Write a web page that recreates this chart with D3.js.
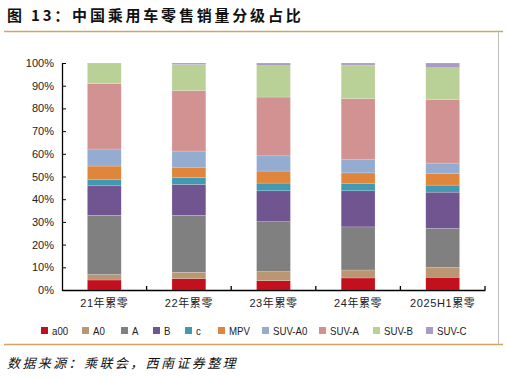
<!DOCTYPE html>
<html>
<head>
<meta charset="utf-8">
<script src="https://cdn.jsdelivr.net/npm/d3@7"></script>
<style>
  body { margin: 0; background: #fff; }
  svg { display: block; }
</style>
</head>
<body>
<svg id="chart" width="507" height="378"></svg>
<script>
// data (shares in %)
const categories = ["21年累零", "22年累零", "23年累零", "24年累零", "2025H1累零"]
const seriesNames = ["a00", "A0", "A", "B", "c", "MPV", "SUV-A0", "SUV-A", "SUV-B", "SUV-C"]
const a00   = [4.4, 5.0, 4.1, 5.3, 5.6]
const A0    = [2.4, 2.8, 4.0, 3.5, 4.3]
const A     = [26.1, 25.1, 22.0, 19.0, 17.2]
const B     = [13.0, 13.6, 13.6, 15.9, 16.0]
const c     = [2.9, 3.1, 3.4, 3.1, 3.1]
const MPV   = [5.8, 4.5, 5.3, 4.8, 5.0]
const SUVA0 = [7.5, 7.1, 6.7, 5.8, 4.7]
const SUVA  = [28.8, 26.7, 25.9, 26.9, 27.9]
const SUVB  = [8.8, 11.4, 13.8, 14.8, 14.1]
const SUVC  = [0.3, 0.7, 1.2, 0.9, 2.1]
const yTicks = [0, 10, 20, 30, 40, 50, 60, 70, 80, 90, 100]

const colors = ["#C3101E", "#BA9672", "#808080", "#705590", "#4399B1",
                "#E0853C", "#94ACD0", "#D39292", "#B9D096", "#AA9BC2"]

const seriesValues = [a00, A0, A, B, c, MPV, SUVA0, SUVA, SUVB, SUVC]

const margin = { left: 62, top: 63, right: 22, bottom: 88 }
const width = 485 - margin.left
const height = 290 - margin.top

const svg = d3.select("#chart")

// frame lines
svg.append("line").attr("x1", 4).attr("x2", 503).attr("y1", 31.5).attr("y2", 31.5)
    .attr("stroke", "#D2A465").attr("stroke-width", 1.5)
svg.append("line").attr("x1", 4).attr("x2", 503).attr("y1", 344.5).attr("y2", 344.5)
    .attr("stroke", "#D2A465").attr("stroke-width", 1.5)
svg.append("line").attr("x1", 498.5).attr("x2", 498.5).attr("y1", 32).attr("y2", 344)
    .attr("stroke", "#BDBDBD").attr("stroke-width", 1)

// title
svg.append("text")
    .attr("x", 7).attr("y", 21)
    .attr("font-family", "'Noto Sans CJK SC', sans-serif")
    .attr("font-size", 15).attr("font-weight", "bold").attr("fill", "#111")
    .attr("letter-spacing", 2.8)
    .text("图 13：中国乘用车零售销量分级占比")

// source
svg.append("text")
    .attr("x", 7).attr("y", 368)
    .attr("font-family", "'Noto Sans CJK SC', serif")
    .attr("font-size", 13).attr("font-style", "italic").attr("fill", "#111")
    .attr("letter-spacing", 2.4)
    .text("数据来源：乘联会，西南证券整理")

const g = svg.append("g")
    .attr("transform", "translate(" + margin.left + "," + margin.top + ")")

const x = d3.scaleBand().domain(categories).range([0, width]).padding(0)
const y = d3.scaleLinear().domain([0, 100]).range([height, 0])

const table = categories.map((cat, i) => {
    const row = { cat: cat }
    seriesNames.forEach((s, j) => { row[s] = seriesValues[j][i] })
    return row
})
const stacked = d3.stack().keys(seriesNames)(table)

const barW = x.bandwidth() * 0.4

g.append("g").selectAll("g")
    .data(stacked)
    .join("g")
    .attr("fill", (d, i) => colors[i])
    .selectAll("rect")
    .data(d => d)
    .join("rect")
    .attr("x", d => x(d.data.cat) + (x.bandwidth() - barW) / 2)
    .attr("width", barW)
    .attr("y", d => y(d[1]))
    .attr("height", d => y(d[0]) - y(d[1]))
    .attr("stroke", "#fff").attr("stroke-opacity", 0.35).attr("stroke-width", 0.5)

// y axis
const yAxis = d3.axisLeft(y).tickValues(yTicks).tickFormat(d => d + "%")
    .tickSizeInner(-4).tickSizeOuter(0).tickPadding(8)
const ya = g.append("g").call(yAxis)
ya.select(".domain").attr("stroke", "#000").attr("stroke-width", 1.3)
ya.selectAll(".tick line").attr("stroke", "#000")
ya.selectAll("text").attr("font-family", "'Liberation Sans', Arial, sans-serif")
    .attr("font-size", 11).attr("fill", "#222")

// x axis: ticks between bands
const xa = g.append("g").attr("transform", "translate(0," + height + ")")
    .call(d3.axisBottom(x).tickSize(0).tickPadding(9))
xa.select(".domain").attr("stroke", "#000").attr("stroke-width", 1.3)
xa.selectAll("text").attr("font-family", "'Liberation Sans', 'Noto Sans CJK SC', sans-serif")
    .attr("font-size", 11).attr("fill", "#222").attr("letter-spacing", 0.6)
xa.selectAll(".sep")
    .data(categories.slice(1).concat(["end"]))
    .join("line")
    .attr("class", "sep")
    .attr("x1", (d, i) => x.step() * (i + 1)).attr("x2", (d, i) => x.step() * (i + 1))
    .attr("y1", 0).attr("y2", -4)
    .attr("stroke", "#000").attr("stroke-width", 1.3)

// legend
const legendX = [41, 82, 121, 153, 185, 218, 262, 319, 373, 426]
const legend = svg.append("g").attr("transform", "translate(0,331)")
const items = legend.selectAll("g")
    .data(seriesNames)
    .join("g")
    .attr("transform", (d, i) => "translate(" + legendX[i] + ",0)")
items.append("rect")
    .attr("x", 0).attr("y", -4).attr("width", 7).attr("height", 7)
    .attr("fill", (d, i) => colors[i])
items.append("text")
    .attr("transform", "translate(11,4) scale(0.88,1)")
    .attr("font-family", "'Liberation Sans', sans-serif")
    .attr("font-size", 11).attr("fill", "#222")
    .text(d => d)
</script>
</body>
</html>
